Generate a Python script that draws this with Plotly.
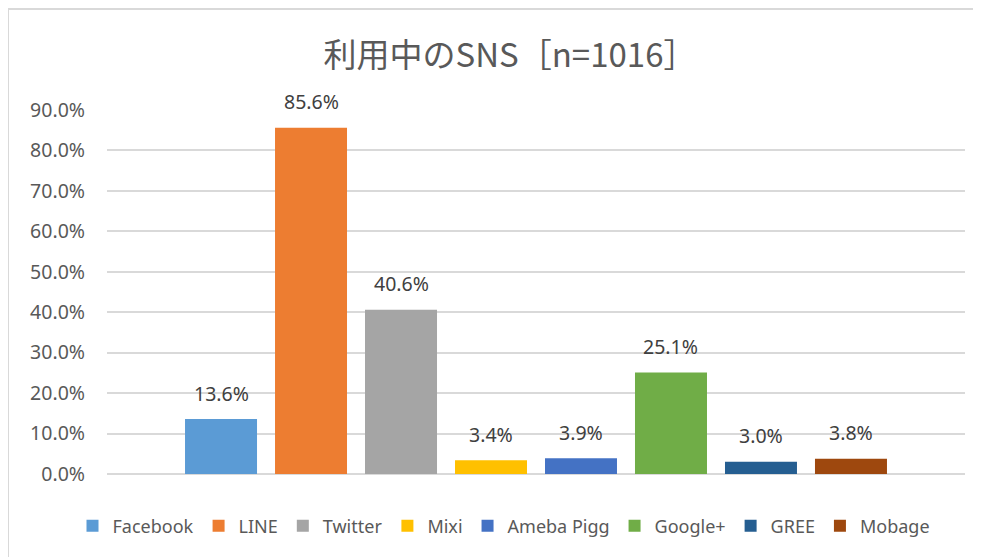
import plotly.graph_objects as go

sns_names = ["Facebook", "LINE", "Twitter", "Mixi", "Ameba Pigg", "Google+", "GREE", "Mobage"]
usage_pct = [13.6, 85.6, 40.6, 3.4, 3.9, 25.1, 3.0, 3.8]
bar_colors = ["#5B9BD5", "#ED7D31", "#A5A5A5", "#FFC000", "#4472C4", "#70AD47", "#255E91", "#9E480E"]
title_text = "利用中のSNS［n=1016］"
y_ticks = [0, 10, 20, 30, 40, 50, 60, 70, 80, 90]

# page body has an 8px margin; figure coordinates below are page minus 8
W, H = 973, 549
L, R, T, B = 99, 16, 102, 83
PW = W - L - R
PH = H - T - B

FONT = "Noto Sans, sans-serif"
fig = go.Figure()
for i, (name, val, col) in enumerate(zip(sns_names, usage_pct, bar_colors)):
    fig.add_trace(go.Bar(
        x=[i], y=[val], name=name, marker=dict(color=col, line=dict(width=0)),
        width=0.8, hoverinfo="name+y",
    ))
    fig.add_annotation(
        x=i, y=val, xref="x", yref="y", text=f"{val:.1f}%", showarrow=False,
        yanchor="middle", yshift=26,
        font=dict(family=FONT, size=19.5, color="#404040"),
    )

fig.update_layout(
    width=W, height=H,
    margin=dict(l=L, r=R, t=T, b=B),
    paper_bgcolor="white", plot_bgcolor="white",
    barmode="overlay",
    title=dict(text=title_text, x=(510 - 8 - L) / PW, xanchor="center", xref="paper",
               y=1 - 47 / H, yanchor="middle",
               font=dict(family="Noto Sans CJK JP", size=33, color="#595959")),
    xaxis=dict(range=[-1.267, 8.267], showticklabels=False, showgrid=False,
               zeroline=False, showline=False, ticks=""),
    yaxis=dict(range=[0, 90], tickvals=y_ticks, ticktext=[f"{v:.1f}%" for v in y_ticks],
               showgrid=True, gridcolor="#D9D9D9", gridwidth=1.5,
               zeroline=True, zerolinecolor="#D9D9D9", zerolinewidth=1.5,
               showline=False, ticks="", ticklabelstandoff=21,
               tickfont=dict(family=FONT, size=19.5, color="#595959")),
    legend=dict(orientation="h", x=(504 - 8 - L) / PW, xanchor="center",
                y=-(526 - 474) / PH, yanchor="middle",
                font=dict(family=FONT, size=18, color="#595959"),
                itemclick=False, traceorder="normal"),
    showlegend=True,
    shapes=[dict(type="rect", xref="paper", yref="paper",
                 x0=(0 - L) / PW, x1=(1000 - L) / PW,
                 y0=-(600 - 466) / PH, y1=(466 - 1) / PH,
                 line=dict(color="#D9D9D9", width=2), fillcolor="rgba(0,0,0,0)", layer="below")],
)

fig.write_html("out.html")
